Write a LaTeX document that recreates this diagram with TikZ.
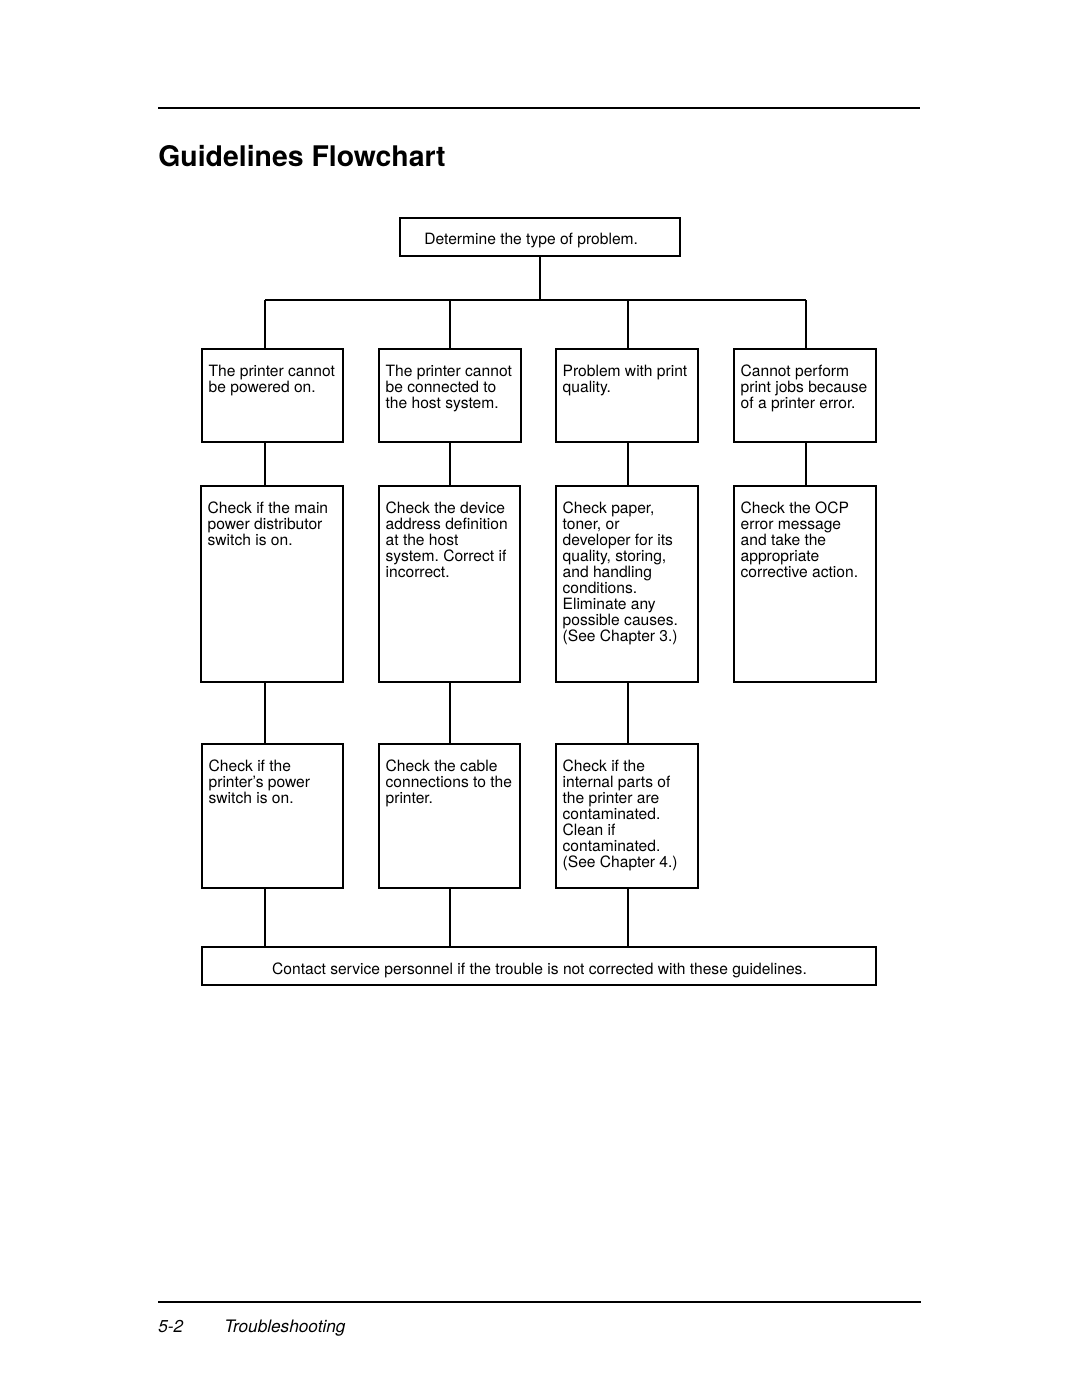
\documentclass[tikz,border=0pt]{standalone}
\usepackage{fontspec}
\setmainfont{TeX Gyre Heros}
\usetikzlibrary{fit}
\frenchspacing
\tikzset{
  box/.style={draw, line width=0.75pt, inner sep=0pt},
  conn/.style={line width=0.75pt},
  rule/.style={line width=1.2pt},
  txt/.style={anchor=north west, inner sep=0pt, align=left, font=\fontsize{7.8}{8}\selectfont\frenchspacing},
  ctxt/.style={inner sep=0pt, font=\fontsize{7.8}{8}\selectfont\frenchspacing},
}
\begin{document}
\begin{tikzpicture}[x=0.5pt, y=-0.5pt]
\useasboundingbox (0,0) rectangle (1080,1397);
% rules
\draw[rule] (158,108) -- (920,108);
\draw[rule] (158,1302) -- (921,1302);
% title
\node[anchor=base west, inner sep=0pt, font=\fontsize{14.2}{16}\selectfont\bfseries] (title) at (158,166) {Guidelines Flowchart};
% footer
\node[anchor=base west, inner sep=0pt, font=\fontsize{8.6}{10}\selectfont\itshape] (pg) at (158,1332) {5-2};
\node[anchor=base west, inner sep=0pt, font=\fontsize{8.6}{10}\selectfont\itshape] (chap) at (224,1332) {Troubleshooting};

% column x positions
\coordinate (x1) at (265,0);
\coordinate (x2) at (450,0);
\coordinate (x3) at (628,0);
\coordinate (x4) at (806,0);

% top box
\node[box, fit={(400,218) (680,256)}] (top) {};
\node[ctxt, anchor=west] (toptxt) at (424,240) {Determine the type of problem.};
\coordinate (j) at (540,300);

% row 1
\node[box, fit={(202,349) (343,442)}] (b11) {};
\node[box, fit={(379,349) (521,442)}] (b12) {};
\node[box, fit={(556,349) (698,442)}] (b13) {};
\node[box, fit={(734,349) (876,442)}] (b14) {};
% row 2
\node[box, fit={(201,486) (343,682)}] (b21) {};
\node[box, fit={(379,486) (520,682)}] (b22) {};
\node[box, fit={(556,486) (698,682)}] (b23) {};
\node[box, fit={(734,486) (876,682)}] (b24) {};
% row 3
\node[box, fit={(202,744) (343,888)}] (b31) {};
\node[box, fit={(379,744) (520,888)}] (b32) {};
\node[box, fit={(556,744) (698,888)}] (b33) {};
% bottom
\node[box, fit={(202,947) (876,985)}] (bot) {};
\node[ctxt] (bottxt) at (539.5,970) {Contact service personnel if the trouble is not corrected with these guidelines.};

% texts
\node[txt] (t11) at ([xshift=3.5pt, yshift=-8pt]b11.north west) {The printer cannot\\be powered on.};
\node[txt] (t12) at ([xshift=3.5pt, yshift=-8pt]b12.north west) {The printer cannot\\be connected to\\the host system.};
\node[txt] (t13) at ([xshift=3.5pt, yshift=-8pt]b13.north west) {Problem with print\\quality.};
\node[txt] (t14) at ([xshift=3.5pt, yshift=-8pt]b14.north west) {Cannot perform\\print jobs because\\of a printer error.};

\node[txt] (t21) at ([xshift=3.5pt, yshift=-8pt]b21.north west) {Check if the main\\power distributor\\switch is on.};
\node[txt] (t22) at ([xshift=3.5pt, yshift=-8pt]b22.north west) {Check the device\\address definition\\at the host\\system. Correct if\\incorrect.};
\node[txt] (t23) at ([xshift=3.5pt, yshift=-8pt]b23.north west) {Check paper,\\toner, or\\developer for its\\quality, storing,\\and handling\\conditions.\\Eliminate any\\possible causes.\\(See Chapter 3.)};
\node[txt] (t24) at ([xshift=3.5pt, yshift=-8pt]b24.north west) {Check the OCP\\error message\\and take the\\appropriate\\corrective action.};

\node[txt] (t31) at ([xshift=3.5pt, yshift=-8pt]b31.north west) {Check if the\\printer’s power\\switch is on.};
\node[txt] (t32) at ([xshift=3.5pt, yshift=-8pt]b32.north west) {Check the cable\\connections to the\\printer.};
\node[txt] (t33) at ([xshift=3.5pt, yshift=-8pt]b33.north west) {Check if the\\internal parts of\\the printer are\\contaminated.\\Clean if\\contaminated.\\(See Chapter 4.)};

% connectors
\draw[conn] (top.south) -- (j);
\draw[conn] (j -| x1) -- (j -| x4);
\foreach \i in {1,2,3,4} {
  \draw[conn] (j -| x\i) -- (b1\i.north -| x\i);
  \draw[conn] (b1\i.south -| x\i) -- (b2\i.north -| x\i);
}
\foreach \i in {1,2,3} {
  \draw[conn] (b2\i.south -| x\i) -- (b3\i.north -| x\i);
  \draw[conn] (b3\i.south -| x\i) -- (bot.north -| x\i);
}
\end{tikzpicture}
\end{document}
